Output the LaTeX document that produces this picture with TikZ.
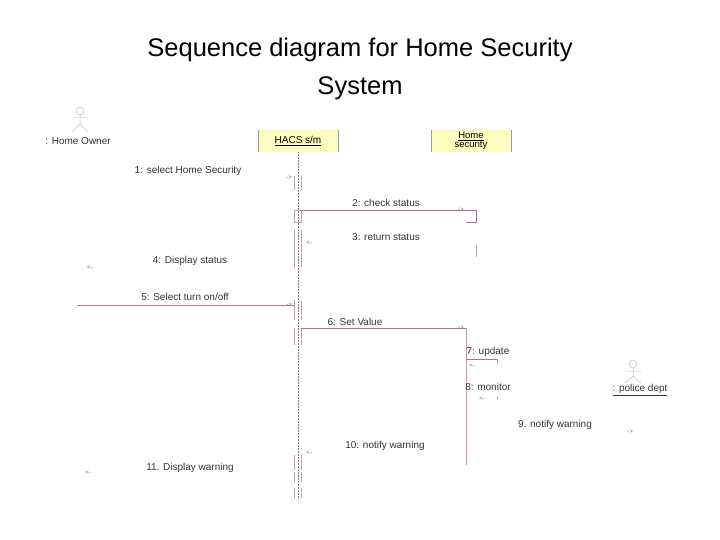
\documentclass[tikz,border=0pt]{standalone}
\usepackage{fontspec}
\setmainfont{Liberation Sans}
\begin{document}
\begin{tikzpicture}[x=1pt,y=-1pt,
  msg/.style={draw=msgc,line width=0.6pt},
  lbl/.style={font=\fontsize{10}{11}\selectfont,text=black!80,inner sep=0pt},
  tip/.style={font=\fontsize{6}{6}\selectfont,text=black!60,inner sep=0pt},
  act/.style={draw=msgc!70,line width=0.5pt},
  life/.style={draw=black!50,densely dotted,line width=0.5pt},
  obj/.style={fill=yellow!25,minimum width=80pt,minimum height=22pt,inner sep=0pt,font=\fontsize{10}{10}\selectfont},
  actor/.style={draw=black!25,line width=0.5pt}]
\definecolor{msgc}{RGB}{176,112,150}
\useasboundingbox (0,0) rectangle (720,540);
\node[font=\fontsize{25.5}{38}\selectfont,align=center] (title) at (360,69) {Sequence diagram for Home Security\\System};
% actors
\draw[actor] (80,111) circle (4);
\draw[actor] (80,115) -- (80,124) (72,118)--(88,118) (80,124)--(72,132) (80,124)--(88,132);
\node[lbl] (owner) at (78,141) {: Home Owner};
\draw[actor] (633,364) circle (4);
\draw[actor] (633,368) -- (633,376) (625,371)--(641,371) (633,376)--(625,383) (633,376)--(641,383);
\node[lbl] (police) at (640,390) {\underline{: police dept}};
% objects
\node[obj] (hacs) at (298,141) {\underline{HACS s/m}};
\draw[black!40] (hacs.north west)--(hacs.south west) (hacs.north east)--(hacs.south east);
\node[obj,align=center,font=\fontsize{9.5}{9}\selectfont] (home) at (471,141) {\underline{Home}\\security};
\draw[black!40] (home.north west)--(home.south west) (home.north east)--(home.south east);
% lifeline
\coordinate (hl) at (298,500);
\draw[life] (hacs.south) -- (hl);
% activations HACS
\foreach \a/\b in {176/190,230/252,252/268,300/320,328/345,455/470,472/482,488/498}
  {\draw[act] (294,\a)--(294,\b) (301,\a)--(301,\b);}
\draw[act] (294,210) rectangle (301,222);
% home security activations
\coordinate (hs1) at (476,210);
\coordinate (hs2) at (476,222);
\draw[msg] (301,210) -- (hs1) -- (hs2) -- (466,222);
\draw[act] (476,245)--(476,257);
\draw[act] (466,328) -- (466,465);
% messages
\node[lbl] (m1) at (188,171) {1: select Home Security};
\node[tip] (t1) at (289,178) {->};
\node[lbl] (m2) at (386,203) {2: check status};
\node[tip] (t2) at (461,210) {->};
\node[lbl] (m3) at (386,237) {3: return status};
\node[tip] (t3) at (309,243) {<-};
\node[lbl] (m4) at (190,261) {4: Display status};
\node[tip] (t4) at (90,268) {<-};
\coordinate (o5) at (77,305);
\node[lbl] (m5) at (185,297) {5: Select turn on/off};
\draw[msg] (o5) -- (294,305);
\node[tip] (t5) at (289,305) {->};
\coordinate (h6) at (466,328);
\node[lbl] (m6) at (355,322) {6: Set Value};
\draw[msg] (301,328) -- (h6);
\node[tip] (t6) at (461,328) {->};
\node[lbl] (m7) at (488,352) {7: update};
\draw[msg] (466,359) -- (497,359);
\draw[act] (497,359) -- (497,364) (497,396)--(497,399);
\node[tip] (t7) at (472,366) {<-};
\node[lbl] (m8) at (488,387) {8: monitor};
\node[tip] (t8) at (482,399) {<-};
\node[lbl] (m9) at (555,425) {9. notify warning};
\node[tip] (t9) at (630,432) {->};
\node[lbl] (m10) at (385,446) {10: notify warning};
\node[tip] (t10) at (309,453) {<-};
\node[lbl] (m11) at (190,468) {11. Display warning};
\node[tip] (t11) at (88,473) {<-};
\end{tikzpicture}
\end{document}
